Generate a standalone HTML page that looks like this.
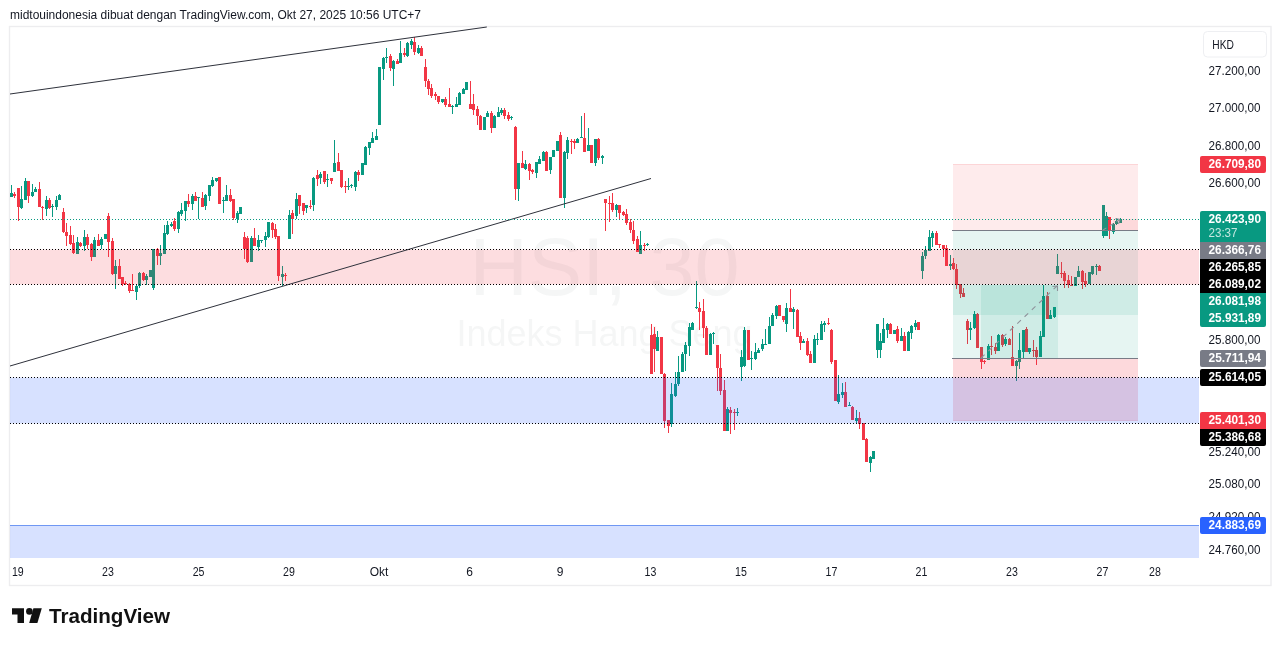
<!DOCTYPE html>
<html><head><meta charset="utf-8"><title>HSI chart</title>
<style>
html,body{margin:0;padding:0;background:#fff;}
body{width:1281px;height:646px;overflow:hidden;position:relative;font-family:"Liberation Sans",sans-serif;}
svg{position:absolute;left:0;top:0;}
text{font-family:"Liberation Sans",sans-serif;}
.aa{shape-rendering:auto;}
.ax{font-size:12px;fill:#131722;}
.tg{font-size:12px;font-weight:bold;}
</style></head><body>
<svg width="1281" height="646" viewBox="0 0 1281 646" shape-rendering="crispEdges">
<rect width="1281" height="646" fill="#fff"/>
<text class="aa" x="10" y="18.5" font-size="12" fill="#131722" textLength="411" lengthAdjust="spacingAndGlyphs">midtouindonesia dibuat dengan TradingView.com, Okt 27, 2025 10:56 UTC+7</text>
<rect x="9.5" y="26.5" width="1261.5" height="559" fill="none" stroke="#ededef" stroke-width="1.4" class="aa"/>
<g class="aa" fill="rgba(80,83,94,0.055)" text-anchor="middle"><text x="604.5" y="294.5" font-size="81">HSI, 30</text><text x="604.5" y="345.6" font-size="36">Indeks Hang Seng</text></g>
<g id="candles"><path fill="#089981" d="M11 185h1v12h-1zM10 193h3v4h-3z"/>
<path fill="#f23645" d="M14 192h1v6h-1zM13 194h3v2h-3z"/>
<path fill="#f23645" d="M18 188h1v33h-1zM17 188h3v19h-3z"/>
<path fill="#089981" d="M21 186h1v23h-1zM20 199h3v9h-3z"/>
<path fill="#089981" d="M25 178h1v22h-1zM24 181h3v19h-3z"/>
<path fill="#f23645" d="M28 181h1v22h-1zM27 181h3v15h-3z"/>
<path fill="#089981" d="M32 184h1v13h-1zM31 192h3v4h-3z"/>
<path fill="#089981" d="M35 187h1v5h-1zM34 189h3v3h-3z"/>
<path fill="#f23645" d="M39 182h1v25h-1zM38 189h3v18h-3z"/>
<path fill="#f23645" d="M42 206h1v14h-1zM41 207h3v1h-3z"/>
<path fill="#089981" d="M46 196h1v20h-1zM45 200h3v9h-3z"/>
<path fill="#f23645" d="M49 198h1v11h-1zM48 200h3v8h-3z"/>
<path fill="#089981" d="M52 204h1v13h-1zM51 206h3v1h-3z"/>
<path fill="#089981" d="M56 196h1v14h-1zM55 200h3v7h-3z"/>
<path fill="#089981" d="M59 194h1v6h-1zM58 195h3v5h-3z"/>
<path fill="#f23645" d="M63 208h1v25h-1zM62 212h3v20h-3z"/>
<path fill="#f23645" d="M66 223h1v23h-1zM65 232h3v4h-3z"/>
<path fill="#f23645" d="M70 226h1v19h-1zM69 235h3v9h-3z"/>
<path fill="#f23645" d="M73 235h1v19h-1zM72 243h3v10h-3z"/>
<path fill="#089981" d="M77 237h1v17h-1zM76 242h3v12h-3z"/>
<path fill="#f23645" d="M80 242h1v5h-1zM79 243h3v3h-3z"/>
<path fill="#089981" d="M84 230h1v21h-1zM83 237h3v9h-3z"/>
<path fill="#f23645" d="M87 234h1v15h-1zM86 237h3v8h-3z"/>
<path fill="#f23645" d="M91 243h1v18h-1zM90 244h3v13h-3z"/>
<path fill="#089981" d="M94 237h1v20h-1zM93 240h3v17h-3z"/>
<path fill="#f23645" d="M98 234h1v12h-1zM97 240h3v6h-3z"/>
<path fill="#089981" d="M101 237h1v12h-1zM100 239h3v6h-3z"/>
<path fill="#089981" d="M105 234h1v5h-1zM104 234h3v5h-3z"/>
<path fill="#f23645" d="M108 213h1v44h-1zM107 216h3v26h-3z"/>
<path fill="#f23645" d="M112 238h1v37h-1zM111 241h3v33h-3z"/>
<path fill="#089981" d="M115 260h1v29h-1zM114 266h3v8h-3z"/>
<path fill="#f23645" d="M119 259h1v20h-1zM118 266h3v13h-3z"/>
<path fill="#f23645" d="M122 277h1v9h-1zM121 277h3v7h-3z"/>
<path fill="#f23645" d="M125 281h1v4h-1zM124 283h3v1h-3z"/>
<path fill="#f23645" d="M129 283h1v10h-1zM128 284h3v7h-3z"/>
<path fill="#f23645" d="M132 274h1v17h-1zM131 290h3v1h-3z"/>
<path fill="#089981" d="M136 285h1v15h-1zM135 286h3v6h-3z"/>
<path fill="#089981" d="M139 272h1v16h-1zM138 273h3v13h-3z"/>
<path fill="#f23645" d="M143 272h1v9h-1zM142 273h3v7h-3z"/>
<path fill="#089981" d="M146 274h1v11h-1zM145 276h3v4h-3z"/>
<path fill="#089981" d="M150 270h1v7h-1zM149 270h3v7h-3z"/>
<path fill="#089981" d="M153 249h1v41h-1zM152 249h3v39h-3z"/>
<path fill="#f23645" d="M157 248h1v17h-1zM156 249h3v7h-3z"/>
<path fill="#089981" d="M160 245h1v20h-1zM159 253h3v3h-3z"/>
<path fill="#089981" d="M164 225h1v29h-1zM163 233h3v21h-3z"/>
<path fill="#089981" d="M167 221h1v14h-1zM166 225h3v9h-3z"/>
<path fill="#089981" d="M171 222h1v5h-1zM170 224h3v2h-3z"/>
<path fill="#f23645" d="M174 218h1v13h-1zM173 221h3v8h-3z"/>
<path fill="#089981" d="M178 211h1v22h-1zM177 212h3v17h-3z"/>
<path fill="#089981" d="M181 203h1v13h-1zM180 210h3v4h-3z"/>
<path fill="#089981" d="M185 201h1v20h-1zM184 201h3v10h-3z"/>
<path fill="#f23645" d="M188 194h1v13h-1zM187 201h3v3h-3z"/>
<path fill="#089981" d="M192 194h1v16h-1zM191 196h3v8h-3z"/>
<path fill="#f23645" d="M195 192h1v9h-1zM194 196h3v5h-3z"/>
<path fill="#089981" d="M198 197h1v22h-1zM197 197h3v1h-3z"/>
<path fill="#f23645" d="M202 192h1v15h-1zM201 198h3v9h-3z"/>
<path fill="#089981" d="M205 194h1v16h-1zM204 195h3v11h-3z"/>
<path fill="#089981" d="M209 185h1v16h-1zM208 185h3v11h-3z"/>
<path fill="#089981" d="M212 177h1v10h-1zM211 180h3v6h-3z"/>
<path fill="#089981" d="M216 178h1v4h-1zM215 178h3v3h-3z"/>
<path fill="#f23645" d="M219 177h1v27h-1zM218 177h3v27h-3z"/>
<path fill="#089981" d="M223 197h1v16h-1zM222 200h3v1h-3z"/>
<path fill="#089981" d="M226 185h1v16h-1zM225 195h3v6h-3z"/>
<path fill="#f23645" d="M230 189h1v13h-1zM229 195h3v6h-3z"/>
<path fill="#f23645" d="M233 199h1v21h-1zM232 199h3v19h-3z"/>
<path fill="#089981" d="M237 211h1v12h-1zM236 213h3v6h-3z"/>
<path fill="#089981" d="M240 207h1v7h-1zM239 207h3v7h-3z"/>
<path fill="#f23645" d="M244 232h1v27h-1zM243 237h3v12h-3z"/>
<path fill="#f23645" d="M247 236h1v27h-1zM246 238h3v24h-3z"/>
<path fill="#089981" d="M251 236h1v26h-1zM250 238h3v24h-3z"/>
<path fill="#f23645" d="M254 228h1v18h-1zM253 238h3v8h-3z"/>
<path fill="#089981" d="M258 235h1v16h-1zM257 240h3v7h-3z"/>
<path fill="#089981" d="M261 240h1v3h-1zM260 240h3v1h-3z"/>
<path fill="#089981" d="M265 232h1v15h-1zM264 236h3v4h-3z"/>
<path fill="#089981" d="M268 222h1v16h-1zM267 222h3v15h-3z"/>
<path fill="#f23645" d="M272 222h1v16h-1zM271 223h3v7h-3z"/>
<path fill="#f23645" d="M275 224h1v15h-1zM274 229h3v8h-3z"/>
<path fill="#f23645" d="M278 236h1v45h-1zM277 236h3v40h-3z"/>
<path fill="#089981" d="M282 266h1v20h-1zM281 274h3v3h-3z"/>
<path fill="#f23645" d="M285 273h1v8h-1zM284 275h3v1h-3z"/>
<path fill="#089981" d="M289 210h1v29h-1zM288 215h3v24h-3z"/>
<path fill="#f23645" d="M292 210h1v24h-1zM291 213h3v6h-3z"/>
<path fill="#089981" d="M296 193h1v26h-1zM295 199h3v17h-3z"/>
<path fill="#f23645" d="M299 195h1v19h-1zM298 195h3v11h-3z"/>
<path fill="#f23645" d="M303 203h1v12h-1zM302 203h3v8h-3z"/>
<path fill="#089981" d="M306 205h1v8h-1zM305 205h3v3h-3z"/>
<path fill="#f23645" d="M310 200h1v9h-1zM309 206h3v1h-3z"/>
<path fill="#089981" d="M313 177h1v34h-1zM312 178h3v27h-3z"/>
<path fill="#f23645" d="M317 170h1v16h-1zM316 175h3v4h-3z"/>
<path fill="#089981" d="M320 172h1v12h-1zM319 174h3v4h-3z"/>
<path fill="#f23645" d="M324 171h1v13h-1zM323 171h3v11h-3z"/>
<path fill="#089981" d="M327 174h1v13h-1zM326 179h3v1h-3z"/>
<path fill="#f23645" d="M331 178h1v6h-1zM330 178h3v3h-3z"/>
<path fill="#089981" d="M334 140h1v32h-1zM333 163h3v9h-3z"/>
<path fill="#f23645" d="M338 153h1v18h-1zM337 162h3v9h-3z"/>
<path fill="#f23645" d="M341 170h1v18h-1zM340 170h3v17h-3z"/>
<path fill="#f23645" d="M345 181h1v12h-1zM344 186h3v1h-3z"/>
<path fill="#089981" d="M348 178h1v12h-1zM347 186h3v1h-3z"/>
<path fill="#089981" d="M351 184h1v4h-1zM350 185h3v1h-3z"/>
<path fill="#089981" d="M355 171h1v20h-1zM354 172h3v15h-3z"/>
<path fill="#f23645" d="M358 170h1v11h-1zM357 172h3v3h-3z"/>
<path fill="#089981" d="M362 163h1v12h-1zM361 163h3v12h-3z"/>
<path fill="#089981" d="M365 146h1v19h-1zM364 147h3v18h-3z"/>
<path fill="#089981" d="M369 142h1v13h-1zM368 142h3v6h-3z"/>
<path fill="#089981" d="M372 132h1v11h-1zM371 138h3v5h-3z"/>
<path fill="#089981" d="M376 129h1v11h-1zM375 136h3v4h-3z"/>
<path fill="#089981" d="M379 67h1v58h-1zM378 67h3v58h-3z"/>
<path fill="#089981" d="M383 57h1v23h-1zM382 58h3v11h-3z"/>
<path fill="#089981" d="M386 48h1v15h-1zM385 57h3v1h-3z"/>
<path fill="#f23645" d="M390 54h1v17h-1zM389 56h3v12h-3z"/>
<path fill="#089981" d="M393 60h1v26h-1zM392 61h3v8h-3z"/>
<path fill="#f23645" d="M397 59h1v5h-1zM396 61h3v3h-3z"/>
<path fill="#089981" d="M400 41h1v22h-1zM399 53h3v10h-3z"/>
<path fill="#f23645" d="M404 48h1v9h-1zM403 53h3v2h-3z"/>
<path fill="#089981" d="M407 42h1v15h-1zM406 43h3v13h-3z"/>
<path fill="#089981" d="M411 39h1v10h-1zM410 41h3v4h-3z"/>
<path fill="#f23645" d="M414 37h1v18h-1zM413 42h3v10h-3z"/>
<path fill="#089981" d="M418 45h1v9h-1zM417 48h3v5h-3z"/>
<path fill="#f23645" d="M421 46h1v10h-1zM420 48h3v8h-3z"/>
<path fill="#f23645" d="M425 59h1v28h-1zM424 67h3v14h-3z"/>
<path fill="#f23645" d="M428 79h1v16h-1zM427 81h3v8h-3z"/>
<path fill="#f23645" d="M431 84h1v14h-1zM430 88h3v8h-3z"/>
<path fill="#f23645" d="M435 92h1v8h-1zM434 94h3v2h-3z"/>
<path fill="#f23645" d="M438 96h1v8h-1zM437 96h3v6h-3z"/>
<path fill="#089981" d="M442 99h1v4h-1zM441 99h3v3h-3z"/>
<path fill="#f23645" d="M445 97h1v10h-1zM444 99h3v6h-3z"/>
<path fill="#f23645" d="M449 88h1v19h-1zM448 104h3v3h-3z"/>
<path fill="#089981" d="M452 105h1v9h-1zM451 106h3v1h-3z"/>
<path fill="#089981" d="M456 97h1v10h-1zM455 104h3v3h-3z"/>
<path fill="#089981" d="M459 92h1v13h-1zM458 93h3v12h-3z"/>
<path fill="#089981" d="M463 88h1v6h-1zM462 89h3v5h-3z"/>
<path fill="#089981" d="M466 82h1v8h-1zM465 82h3v8h-3z"/>
<path fill="#f23645" d="M470 81h1v28h-1zM469 104h3v5h-3z"/>
<path fill="#f23645" d="M473 94h1v21h-1zM472 104h3v6h-3z"/>
<path fill="#f23645" d="M477 106h1v19h-1zM476 109h3v7h-3z"/>
<path fill="#f23645" d="M480 115h1v15h-1zM479 116h3v14h-3z"/>
<path fill="#089981" d="M484 117h1v13h-1zM483 117h3v13h-3z"/>
<path fill="#089981" d="M487 111h1v6h-1zM486 113h3v4h-3z"/>
<path fill="#f23645" d="M491 111h1v22h-1zM490 113h3v15h-3z"/>
<path fill="#089981" d="M494 115h1v13h-1zM493 116h3v12h-3z"/>
<path fill="#089981" d="M498 107h1v10h-1zM497 112h3v5h-3z"/>
<path fill="#089981" d="M501 108h1v7h-1zM500 110h3v3h-3z"/>
<path fill="#f23645" d="M504 108h1v11h-1zM503 110h3v6h-3z"/>
<path fill="#f23645" d="M508 112h1v9h-1zM507 115h3v4h-3z"/>
<path fill="#089981" d="M511 116h1v4h-1zM510 117h3v1h-3z"/>
<path fill="#f23645" d="M515 126h1v74h-1zM514 127h3v62h-3z"/>
<path fill="#089981" d="M518 163h1v38h-1zM517 163h3v26h-3z"/>
<path fill="#f23645" d="M522 151h1v17h-1zM521 163h3v5h-3z"/>
<path fill="#089981" d="M525 160h1v10h-1zM524 164h3v5h-3z"/>
<path fill="#f23645" d="M529 163h1v17h-1zM528 164h3v7h-3z"/>
<path fill="#f23645" d="M532 169h1v5h-1zM531 170h3v2h-3z"/>
<path fill="#089981" d="M536 162h1v16h-1zM535 162h3v11h-3z"/>
<path fill="#089981" d="M539 156h1v8h-1zM538 159h3v5h-3z"/>
<path fill="#089981" d="M543 151h1v10h-1zM542 152h3v9h-3z"/>
<path fill="#f23645" d="M546 151h1v20h-1zM545 152h3v19h-3z"/>
<path fill="#089981" d="M550 157h1v17h-1zM549 157h3v13h-3z"/>
<path fill="#089981" d="M553 150h1v7h-1zM552 150h3v7h-3z"/>
<path fill="#089981" d="M557 141h1v10h-1zM556 141h3v10h-3z"/>
<path fill="#f23645" d="M560 132h1v66h-1zM559 135h3v63h-3z"/>
<path fill="#089981" d="M564 151h1v57h-1zM563 152h3v46h-3z"/>
<path fill="#089981" d="M567 137h1v22h-1zM566 140h3v13h-3z"/>
<path fill="#f23645" d="M571 139h1v15h-1zM570 141h3v1h-3z"/>
<path fill="#f23645" d="M574 139h1v10h-1zM573 141h3v2h-3z"/>
<path fill="#089981" d="M577 138h1v5h-1zM576 139h3v4h-3z"/>
<path fill="#089981" d="M581 116h1v22h-1zM580 137h3v1h-3z"/>
<path fill="#f23645" d="M584 113h1v39h-1zM583 138h3v14h-3z"/>
<path fill="#089981" d="M588 128h1v23h-1zM587 145h3v6h-3z"/>
<path fill="#f23645" d="M591 145h1v18h-1zM590 145h3v18h-3z"/>
<path fill="#089981" d="M595 139h1v27h-1zM594 139h3v24h-3z"/>
<path fill="#f23645" d="M598 138h1v22h-1zM597 139h3v19h-3z"/>
<path fill="#089981" d="M602 155h1v9h-1zM601 156h3v2h-3z"/>
<path fill="#f23645" d="M605 199h1v32h-1zM604 199h3v4h-3z"/>
<path fill="#f23645" d="M609 196h1v26h-1zM608 203h3v1h-3z"/>
<path fill="#f23645" d="M612 193h1v19h-1zM611 203h3v7h-3z"/>
<path fill="#089981" d="M616 204h1v13h-1zM615 205h3v5h-3z"/>
<path fill="#f23645" d="M619 205h1v14h-1zM618 205h3v8h-3z"/>
<path fill="#f23645" d="M623 211h1v5h-1zM622 212h3v3h-3z"/>
<path fill="#f23645" d="M626 209h1v16h-1zM625 214h3v9h-3z"/>
<path fill="#f23645" d="M630 219h1v14h-1zM629 222h3v8h-3z"/>
<path fill="#f23645" d="M633 221h1v23h-1zM632 230h3v11h-3z"/>
<path fill="#f23645" d="M637 236h1v16h-1zM636 239h3v13h-3z"/>
<path fill="#089981" d="M640 231h1v23h-1zM639 245h3v9h-3z"/>
<path fill="#f23645" d="M644 243h1v8h-1zM643 245h3v1h-3z"/>
<path fill="#089981" d="M647 243h1v3h-1zM646 244h3v1h-3z"/>
<path fill="#f23645" d="M651 324h1v50h-1zM650 335h3v39h-3z"/>
<path fill="#f23645" d="M654 327h1v45h-1zM653 334h3v15h-3z"/>
<path fill="#089981" d="M657 331h1v20h-1zM656 337h3v14h-3z"/>
<path fill="#f23645" d="M661 337h1v37h-1zM660 337h3v37h-3z"/>
<path fill="#f23645" d="M664 373h1v55h-1zM663 374h3v47h-3z"/>
<path fill="#f23645" d="M668 420h1v13h-1zM667 420h3v6h-3z"/>
<path fill="#089981" d="M671 383h1v44h-1zM670 394h3v30h-3z"/>
<path fill="#089981" d="M675 372h1v25h-1zM674 384h3v12h-3z"/>
<path fill="#089981" d="M678 356h1v30h-1zM677 372h3v12h-3z"/>
<path fill="#089981" d="M682 352h1v20h-1zM681 354h3v18h-3z"/>
<path fill="#089981" d="M685 342h1v29h-1zM684 345h3v9h-3z"/>
<path fill="#089981" d="M689 323h1v33h-1zM688 327h3v19h-3z"/>
<path fill="#089981" d="M692 322h1v8h-1zM691 323h3v7h-3z"/>
<path fill="#089981" d="M696 281h1v28h-1zM695 307h3v1h-3z"/>
<path fill="#f23645" d="M699 302h1v28h-1zM698 308h3v4h-3z"/>
<path fill="#f23645" d="M703 299h1v39h-1zM702 311h3v17h-3z"/>
<path fill="#f23645" d="M706 326h1v29h-1zM705 328h3v27h-3z"/>
<path fill="#089981" d="M710 333h1v22h-1zM709 334h3v21h-3z"/>
<path fill="#089981" d="M713 332h1v12h-1zM712 333h3v1h-3z"/>
<path fill="#f23645" d="M717 345h1v46h-1zM716 345h3v23h-3z"/>
<path fill="#f23645" d="M720 354h1v41h-1zM719 368h3v23h-3z"/>
<path fill="#f23645" d="M724 380h1v51h-1zM723 390h3v41h-3z"/>
<path fill="#089981" d="M727 407h1v24h-1zM726 409h3v22h-3z"/>
<path fill="#f23645" d="M730 407h1v27h-1zM729 410h3v3h-3z"/>
<path fill="#f23645" d="M734 409h1v21h-1zM733 412h3v1h-3z"/>
<path fill="#089981" d="M737 408h1v8h-1zM736 412h3v1h-3z"/>
<path fill="#089981" d="M741 350h1v31h-1zM740 357h3v10h-3z"/>
<path fill="#089981" d="M744 327h1v40h-1zM743 330h3v36h-3z"/>
<path fill="#f23645" d="M748 330h1v30h-1zM747 330h3v30h-3z"/>
<path fill="#089981" d="M751 351h1v19h-1zM750 358h3v1h-3z"/>
<path fill="#089981" d="M755 343h1v17h-1zM754 352h3v7h-3z"/>
<path fill="#089981" d="M758 348h1v5h-1zM757 350h3v3h-3z"/>
<path fill="#089981" d="M762 339h1v12h-1zM761 344h3v5h-3z"/>
<path fill="#089981" d="M765 329h1v16h-1zM764 344h3v1h-3z"/>
<path fill="#089981" d="M769 317h1v27h-1zM768 326h3v18h-3z"/>
<path fill="#089981" d="M772 313h1v13h-1zM771 315h3v11h-3z"/>
<path fill="#089981" d="M776 305h1v14h-1zM775 306h3v10h-3z"/>
<path fill="#f23645" d="M779 305h1v11h-1zM778 305h3v11h-3z"/>
<path fill="#f23645" d="M783 316h1v6h-1zM782 316h3v4h-3z"/>
<path fill="#089981" d="M786 303h1v29h-1zM785 308h3v16h-3z"/>
<path fill="#f23645" d="M790 289h1v23h-1zM789 308h3v4h-3z"/>
<path fill="#089981" d="M793 307h1v22h-1zM792 309h3v3h-3z"/>
<path fill="#f23645" d="M797 309h1v28h-1zM796 310h3v27h-3z"/>
<path fill="#f23645" d="M800 332h1v18h-1zM799 336h3v7h-3z"/>
<path fill="#089981" d="M803 339h1v4h-1zM802 341h3v2h-3z"/>
<path fill="#f23645" d="M807 338h1v18h-1zM806 341h3v14h-3z"/>
<path fill="#f23645" d="M810 351h1v12h-1zM809 354h3v9h-3z"/>
<path fill="#089981" d="M814 335h1v28h-1zM813 339h3v24h-3z"/>
<path fill="#089981" d="M817 333h1v12h-1zM816 339h3v1h-3z"/>
<path fill="#089981" d="M821 321h1v19h-1zM820 324h3v16h-3z"/>
<path fill="#089981" d="M824 321h1v11h-1zM823 323h3v2h-3z"/>
<path fill="#f23645" d="M828 318h1v7h-1zM827 323h3v1h-3z"/>
<path fill="#f23645" d="M831 329h1v35h-1zM830 330h3v32h-3z"/>
<path fill="#f23645" d="M835 360h1v41h-1zM834 360h3v41h-3z"/>
<path fill="#089981" d="M838 375h1v29h-1zM837 394h3v8h-3z"/>
<path fill="#089981" d="M842 383h1v15h-1zM841 392h3v3h-3z"/>
<path fill="#f23645" d="M845 382h1v25h-1zM844 392h3v15h-3z"/>
<path fill="#089981" d="M849 402h1v4h-1zM848 405h3v1h-3z"/>
<path fill="#f23645" d="M852 406h1v14h-1zM851 407h3v13h-3z"/>
<path fill="#089981" d="M856 410h1v13h-1zM855 418h3v3h-3z"/>
<path fill="#f23645" d="M859 412h1v17h-1zM858 418h3v6h-3z"/>
<path fill="#f23645" d="M863 423h1v17h-1zM862 423h3v17h-3z"/>
<path fill="#f23645" d="M866 438h1v24h-1zM865 439h3v23h-3z"/>
<path fill="#089981" d="M870 456h1v16h-1zM869 457h3v6h-3z"/>
<path fill="#089981" d="M873 451h1v8h-1zM872 451h3v8h-3z"/>
<path fill="#089981" d="M877 324h1v34h-1zM876 324h3v26h-3z"/>
<path fill="#089981" d="M880 333h1v25h-1zM879 341h3v9h-3z"/>
<path fill="#089981" d="M883 318h1v25h-1zM882 329h3v14h-3z"/>
<path fill="#089981" d="M887 323h1v15h-1zM886 324h3v6h-3z"/>
<path fill="#f23645" d="M890 323h1v11h-1zM889 324h3v10h-3z"/>
<path fill="#089981" d="M894 330h1v4h-1zM893 330h3v4h-3z"/>
<path fill="#f23645" d="M897 326h1v17h-1zM896 329h3v12h-3z"/>
<path fill="#089981" d="M901 328h1v13h-1zM900 336h3v5h-3z"/>
<path fill="#f23645" d="M904 332h1v19h-1zM903 336h3v15h-3z"/>
<path fill="#089981" d="M908 331h1v20h-1zM907 332h3v19h-3z"/>
<path fill="#089981" d="M911 325h1v14h-1zM910 326h3v7h-3z"/>
<path fill="#089981" d="M915 320h1v10h-1zM914 323h3v4h-3z"/>
<path fill="#f23645" d="M918 322h1v8h-1zM917 322h3v8h-3z"/>
<path fill="#089981" d="M922 252h1v27h-1zM921 256h3v15h-3z"/>
<path fill="#089981" d="M925 246h1v13h-1zM924 250h3v6h-3z"/>
<path fill="#089981" d="M929 230h1v21h-1zM928 237h3v14h-3z"/>
<path fill="#089981" d="M932 231h1v16h-1zM931 233h3v5h-3z"/>
<path fill="#f23645" d="M936 231h1v14h-1zM935 233h3v12h-3z"/>
<path fill="#f23645" d="M939 244h1v4h-1zM938 244h3v1h-3z"/>
<path fill="#f23645" d="M943 245h1v12h-1zM942 245h3v4h-3z"/>
<path fill="#f23645" d="M946 245h1v21h-1zM945 248h3v18h-3z"/>
<path fill="#089981" d="M950 255h1v15h-1zM949 264h3v2h-3z"/>
<path fill="#f23645" d="M953 258h1v12h-1zM952 263h3v6h-3z"/>
<path fill="#f23645" d="M956 264h1v25h-1zM955 269h3v16h-3z"/>
<path fill="#f23645" d="M960 284h1v14h-1zM959 284h3v10h-3z"/>
<path fill="#f23645" d="M963 288h1v9h-1zM962 293h3v4h-3z"/>
<path fill="#f23645" d="M967 319h1v25h-1zM966 321h3v9h-3z"/>
<path fill="#089981" d="M970 322h1v18h-1zM969 328h3v2h-3z"/>
<path fill="#089981" d="M974 311h1v18h-1zM973 314h3v14h-3z"/>
<path fill="#f23645" d="M977 313h1v35h-1zM976 314h3v34h-3z"/>
<path fill="#f23645" d="M981 347h1v22h-1zM980 347h3v15h-3z"/>
<path fill="#f23645" d="M984 360h1v4h-1zM983 361h3v1h-3z"/>
<path fill="#089981" d="M988 344h1v16h-1zM987 346h3v14h-3z"/>
<path fill="#f23645" d="M991 336h1v19h-1zM990 346h3v1h-3z"/>
<path fill="#f23645" d="M995 343h1v11h-1zM994 347h3v4h-3z"/>
<path fill="#089981" d="M998 334h1v17h-1zM997 335h3v16h-3z"/>
<path fill="#f23645" d="M1002 334h1v13h-1zM1001 335h3v10h-3z"/>
<path fill="#089981" d="M1005 337h1v9h-1zM1004 339h3v5h-3z"/>
<path fill="#f23645" d="M1009 338h1v7h-1zM1008 339h3v6h-3z"/>
<path fill="#f23645" d="M1012 326h1v40h-1zM1011 357h3v9h-3z"/>
<path fill="#089981" d="M1016 360h1v21h-1zM1015 361h3v5h-3z"/>
<path fill="#089981" d="M1019 333h1v36h-1zM1018 350h3v12h-3z"/>
<path fill="#089981" d="M1023 330h1v28h-1zM1022 330h3v22h-3z"/>
<path fill="#f23645" d="M1026 327h1v25h-1zM1025 329h3v23h-3z"/>
<path fill="#089981" d="M1029 348h1v6h-1zM1028 348h3v4h-3z"/>
<path fill="#f23645" d="M1033 340h1v17h-1zM1032 350h3v1h-3z"/>
<path fill="#f23645" d="M1036 347h1v18h-1zM1035 350h3v7h-3z"/>
<path fill="#089981" d="M1040 331h1v26h-1zM1039 336h3v21h-3z"/>
<path fill="#089981" d="M1043 285h1v52h-1zM1042 296h3v41h-3z"/>
<path fill="#f23645" d="M1047 292h1v27h-1zM1046 296h3v23h-3z"/>
<path fill="#089981" d="M1050 310h1v9h-1zM1049 315h3v4h-3z"/>
<path fill="#089981" d="M1054 307h1v11h-1zM1053 307h3v10h-3z"/>
<path fill="#089981" d="M1057 254h1v20h-1zM1056 266h3v8h-3z"/>
<path fill="#f23645" d="M1061 262h1v16h-1zM1060 273h3v1h-3z"/>
<path fill="#f23645" d="M1064 271h1v17h-1zM1063 273h3v8h-3z"/>
<path fill="#f23645" d="M1068 275h1v13h-1zM1067 280h3v5h-3z"/>
<path fill="#f23645" d="M1071 276h1v10h-1zM1070 285h3v1h-3z"/>
<path fill="#089981" d="M1075 277h1v9h-1zM1074 277h3v9h-3z"/>
<path fill="#089981" d="M1078 266h1v11h-1zM1077 271h3v6h-3z"/>
<path fill="#f23645" d="M1082 270h1v19h-1zM1081 271h3v11h-3z"/>
<path fill="#f23645" d="M1085 273h1v14h-1zM1084 281h3v3h-3z"/>
<path fill="#089981" d="M1089 272h1v12h-1zM1088 272h3v12h-3z"/>
<path fill="#089981" d="M1092 266h1v9h-1zM1091 266h3v8h-3z"/>
<path fill="#089981" d="M1096 264h1v11h-1zM1095 266h3v1h-3z"/>
<path fill="#f23645" d="M1099 265h1v6h-1zM1098 266h3v5h-3z"/>
<path fill="#089981" d="M1103 205h1v33h-1zM1102 205h3v31h-3z"/>
<path fill="#089981" d="M1106 212h1v24h-1zM1105 216h3v20h-3z"/>
<path fill="#f23645" d="M1109 217h1v22h-1zM1108 217h3v14h-3z"/>
<path fill="#089981" d="M1113 223h1v11h-1zM1112 224h3v8h-3z"/>
<path fill="#089981" d="M1116 218h1v7h-1zM1115 221h3v3h-3z"/>
<path fill="#089981" d="M1120 218h1v5h-1zM1119 219h3v4h-3z"/></g>
<g id="pos">
<rect x="953" y="164" width="185" height="66" fill="rgba(242,54,69,0.1)"/>
<rect x="953" y="230" width="185" height="85" fill="rgba(8,153,129,0.1)"/>
<rect x="1113" y="219" width="25" height="11" fill="rgba(242,54,69,0.1)"/>
<rect x="953" y="285" width="185" height="73" fill="rgba(8,153,129,0.1)"/>
<rect x="981" y="285" width="77" height="73" fill="rgba(8,153,129,0.1)"/>
<rect x="953" y="358" width="185" height="63" fill="rgba(242,54,69,0.19)"/>
<rect x="953" y="164" width="185" height="1" fill="rgba(242,54,69,0.12)"/>
<rect x="953" y="420" width="185" height="1" fill="rgba(242,54,69,0.08)"/>
<rect x="952" y="230" width="186" height="1" fill="#787b86"/>
<rect x="952" y="358" width="186" height="1" fill="#787b86"/>
<g class="aa" stroke="#8f929b" stroke-width="1.1" fill="none">
<line x1="981" y1="358" x2="1057" y2="286" stroke-dasharray="5,5"/>
<path d="M1052.5 286.5L1057.5 286L1057.5 291"/>
<line x1="1103" y1="230" x2="1120" y2="219.5" stroke-dasharray="4,4"/>
<path d="M1115.5 218.5L1120 219.5L1118.5 224"/>
</g>
</g>
<rect x="10" y="249.5" width="1189" height="35" fill="rgba(242,54,69,0.17)" class="aa"/>
<rect x="10" y="377.5" width="1189" height="46" fill="rgba(41,98,255,0.19)" class="aa"/>
<rect x="10" y="525" width="1189" height="33" fill="rgba(41,98,255,0.19)"/>
<rect x="10" y="525" width="1189" height="1" fill="#6f97f3"/>
<g stroke="#2e313b" stroke-width="1" class="aa"><line x1="10" y1="94" x2="486.8" y2="27"/><line x1="10" y1="366" x2="651" y2="178.5"/></g>
<line x1="10" y1="219.5" x2="1199" y2="219.5" stroke="#089981" stroke-width="1" stroke-dasharray="1,2"/>
<line x1="10" y1="249.5" x2="1199" y2="249.5" stroke="#000" stroke-width="1" stroke-dasharray="1,2"/>
<line x1="10" y1="284.5" x2="1199" y2="284.5" stroke="#000" stroke-width="1" stroke-dasharray="1,2"/>
<line x1="10" y1="377.5" x2="1199" y2="377.5" stroke="#000" stroke-width="1" stroke-dasharray="1,2"/>
<line x1="10" y1="423.5" x2="1199" y2="423.5" stroke="#000" stroke-width="1" stroke-dasharray="1,2"/>
<g class="ax aa">
<text x="1208.5" y="74.8" textLength="52" lengthAdjust="spacingAndGlyphs">27.200,00</text>
<text x="1208.5" y="111.7" textLength="52" lengthAdjust="spacingAndGlyphs">27.000,00</text>
<text x="1208.5" y="149.6" textLength="52" lengthAdjust="spacingAndGlyphs">26.800,00</text>
<text x="1208.5" y="187.3" textLength="52" lengthAdjust="spacingAndGlyphs">26.600,00</text>
<text x="1208.5" y="343.7" textLength="52" lengthAdjust="spacingAndGlyphs">25.800,00</text>
<text x="1208.5" y="455.5" textLength="52" lengthAdjust="spacingAndGlyphs">25.240,00</text>
<text x="1208.5" y="487.5" textLength="52" lengthAdjust="spacingAndGlyphs">25.080,00</text>
<text x="1208.5" y="521" textLength="52" lengthAdjust="spacingAndGlyphs">24.920,00</text>
<text x="1208.5" y="553.7" textLength="52" lengthAdjust="spacingAndGlyphs">24.760,00</text>
<text x="17.8" y="576" text-anchor="middle" textLength="11.8" lengthAdjust="spacingAndGlyphs">19</text>
<text x="108" y="576" text-anchor="middle" textLength="11.8" lengthAdjust="spacingAndGlyphs">23</text>
<text x="198.6" y="576" text-anchor="middle" textLength="11.8" lengthAdjust="spacingAndGlyphs">25</text>
<text x="289" y="576" text-anchor="middle" textLength="11.8" lengthAdjust="spacingAndGlyphs">29</text>
<text x="379" y="576" text-anchor="middle">Okt</text>
<text x="469.5" y="576" text-anchor="middle">6</text>
<text x="560" y="576" text-anchor="middle">9</text>
<text x="650.5" y="576" text-anchor="middle" textLength="11.8" lengthAdjust="spacingAndGlyphs">13</text>
<text x="741" y="576" text-anchor="middle" textLength="11.8" lengthAdjust="spacingAndGlyphs">15</text>
<text x="831.5" y="576" text-anchor="middle" textLength="11.8" lengthAdjust="spacingAndGlyphs">17</text>
<text x="921.5" y="576" text-anchor="middle" textLength="11.8" lengthAdjust="spacingAndGlyphs">21</text>
<text x="1012" y="576" text-anchor="middle" textLength="11.8" lengthAdjust="spacingAndGlyphs">23</text>
<text x="1102.5" y="576" text-anchor="middle" textLength="11.8" lengthAdjust="spacingAndGlyphs">27</text>
<text x="1154.9" y="576" text-anchor="middle" textLength="11.8" lengthAdjust="spacingAndGlyphs">28</text>
</g>
<g class="aa">
<rect x="1200" y="156" width="66" height="17" rx="2" fill="#f23645"/>
<text class="tg" x="1208.5" y="168" fill="#fff" textLength="52.5" lengthAdjust="spacingAndGlyphs">26.709,80</text>
<rect x="1200" y="211" width="66" height="31" rx="2" fill="#089981"/>
<rect x="1200" y="238" width="66" height="4" fill="#089981"/>
<text class="tg" x="1208.5" y="223" fill="#fff" textLength="52.5" lengthAdjust="spacingAndGlyphs">26.423,90</text>
<text x="1208.5" y="236.5" font-size="12" fill="#c5e8e1" textLength="29" lengthAdjust="spacingAndGlyphs">23:37</text>
<rect x="1200" y="242" width="66" height="17" rx="2" fill="#787b86"/>
<rect x="1200" y="242" width="66" height="4" fill="#787b86"/>
<rect x="1200" y="255" width="66" height="4" fill="#787b86"/>
<text class="tg" x="1208.5" y="254" fill="#fff" textLength="52.5" lengthAdjust="spacingAndGlyphs">26.366,76</text>
<rect x="1200" y="259" width="66" height="34" rx="2" fill="#000"/>
<rect x="1200" y="259" width="66" height="4" fill="#000"/>
<rect x="1200" y="289" width="66" height="4" fill="#000"/>
<text class="tg" x="1208.5" y="271" fill="#fff" textLength="52.5" lengthAdjust="spacingAndGlyphs">26.265,85</text>
<text class="tg" x="1208.5" y="288" fill="#fff" textLength="52.5" lengthAdjust="spacingAndGlyphs">26.089,02</text>
<rect x="1200" y="293" width="66" height="34" rx="2" fill="#089981"/>
<rect x="1200" y="293" width="66" height="4" fill="#089981"/>
<text class="tg" x="1208.5" y="305" fill="#fff" textLength="52.5" lengthAdjust="spacingAndGlyphs">26.081,98</text>
<text class="tg" x="1208.5" y="322" fill="#fff" textLength="52.5" lengthAdjust="spacingAndGlyphs">25.931,89</text>
<rect x="1200" y="350" width="66" height="17" rx="2" fill="#787b86"/>
<text class="tg" x="1208.5" y="362" fill="#fff" textLength="52.5" lengthAdjust="spacingAndGlyphs">25.711,94</text>
<rect x="1200" y="369" width="66" height="17" rx="2" fill="#000"/>
<text class="tg" x="1208.5" y="381" fill="#fff" textLength="52.5" lengthAdjust="spacingAndGlyphs">25.614,05</text>
<rect x="1200" y="412" width="66" height="17" rx="2" fill="#f23645"/>
<rect x="1200" y="425" width="66" height="4" fill="#f23645"/>
<text class="tg" x="1208.5" y="424" fill="#fff" textLength="52.5" lengthAdjust="spacingAndGlyphs">25.401,30</text>
<rect x="1200" y="429" width="66" height="17" rx="2" fill="#000"/>
<rect x="1200" y="429" width="66" height="4" fill="#000"/>
<text class="tg" x="1208.5" y="441" fill="#fff" textLength="52.5" lengthAdjust="spacingAndGlyphs">25.386,68</text>
<rect x="1200" y="517" width="66" height="17" rx="2" fill="#2962ff"/>
<text class="tg" x="1208.5" y="529" fill="#fff" textLength="52.5" lengthAdjust="spacingAndGlyphs">24.883,69</text>
</g>
<g class="aa"><rect x="1203.5" y="31.5" width="63" height="25.5" rx="4" fill="#fff" stroke="#eeeff2"/><text x="1212.3" y="48.8" font-size="12" fill="#131722" textLength="21.6" lengthAdjust="spacingAndGlyphs">HKD</text></g>
<g class="aa" fill="#111">
<path d="M12 608.2H24V623H17.5V614.6H12Z"/>
<circle cx="29.4" cy="611.4" r="3.3"/>
<path d="M33.4 608.2H41.8L37.4 623H29.2Z"/>
<text x="49" y="623" font-size="20" font-weight="bold" textLength="121" lengthAdjust="spacingAndGlyphs">TradingView</text>
</g>
</svg></body></html>
